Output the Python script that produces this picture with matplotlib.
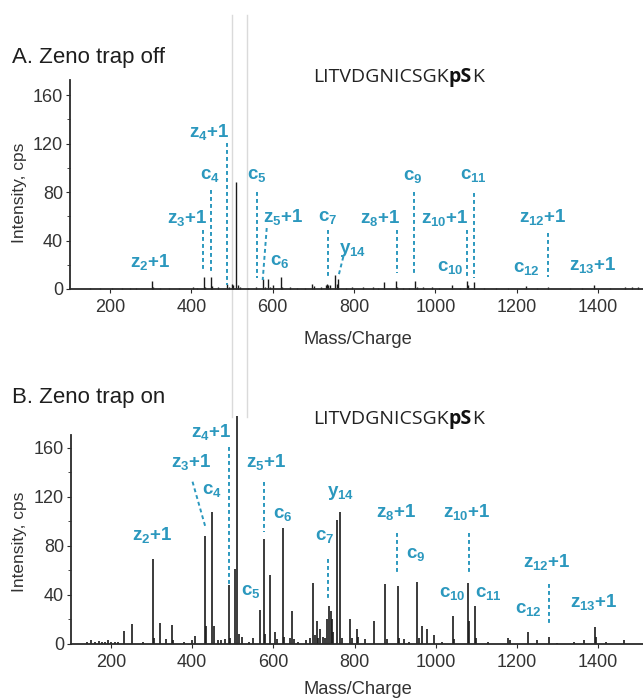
import matplotlib
matplotlib.use("Agg")
import matplotlib.pyplot as plt
from matplotlib.lines import Line2D
from matplotlib.ticker import MultipleLocator

plt.rcParams['font.family'] = ['Liberation Sans', 'DejaVu Sans']
plt.rcParams['mathtext.fontset'] = 'custom'
plt.rcParams['mathtext.rm'] = 'Liberation Sans:bold'
plt.rcParams['mathtext.it'] = 'Liberation Sans:bold'
plt.rcParams['mathtext.bf'] = 'Liberation Sans:bold'

# ---------------- data ----------------
top_mz = [150, 175, 204, 230, 249, 265, 302.6, 306, 323, 345, 370, 405, 415, 431, 434, 448, 451,
          465, 487, 492, 499, 503, 510, 514, 520, 540, 560, 575.5, 580, 589, 593, 600, 620.6, 624,
          642.7, 660, 680, 696, 701.7, 720, 730, 734.5, 737, 741, 753.5, 757, 761.6, 780, 794, 821,
          847.6, 860, 874, 902.5, 906, 920, 935, 950, 955, 970.7, 991, 1010, 1042, 1060, 1077, 1080,
          1096, 1120, 1150, 1179, 1223, 1250, 1278, 1330, 1360, 1390, 1430, 1466, 1483, 1499]
top_int = [0.8, 0.5, 1, 0.8, 1, 0.6, 7, 1.5, 1, 0.8, 0.7, 2, 1, 10, 2, 10, 2.5,
           1.5, 4, 2, 4, 3, 88, 3, 2, 1, 2, 8.5, 2, 8.5, 2, 3, 10, 2,
           2, 1, 1, 4, 2.5, 1.5, 3.5, 4, 3.5, 3, 11.5, 4, 8, 1, 1.5, 1.5,
           2, 1, 6, 6.5, 2, 1, 1, 6.5, 2, 2, 1.5, 1, 3, 1, 6.5, 3,
           5.5, 1, 0.7, 1, 2.5, 0.8, 1.5, 0.8, 1, 3, 1, 2, 2, 2]

bot_mz = [140, 152, 160, 170, 178, 185, 192, 200, 210, 218, 233, 251, 280, 302.6, 306, 320.6, 335,
          350, 353, 380, 400, 406.6, 431, 434, 450, 453, 463, 470, 480, 491, 494, 505, 511.6, 515,
          524, 540, 551, 566.5, 577, 580, 593, 603, 610, 624, 627, 640, 647, 650, 660, 680, 690,
          698.5, 702, 706.6, 711, 716, 722, 727, 733, 737, 741, 745, 748, 757.6, 764, 770, 790, 795,
          805, 808, 827, 849, 876, 880, 907, 910, 923, 935, 954, 958, 966, 979, 995, 1015, 1042,
          1045, 1080, 1083, 1097.5, 1100, 1130, 1178, 1182, 1227, 1250, 1280, 1300, 1340, 1365,
          1393, 1396, 1420, 1463]
bot_int = [2, 3, 2, 2.5, 2, 2, 3, 2, 1.5, 2, 11, 16, 1.5, 69, 5, 17.5, 4,
           15.5, 3, 2, 3, 6.5, 88, 15, 107.5, 15, 3, 3, 4, 48, 5, 61, 186, 8,
           6, 2, 5, 28, 85.5, 8, 56.5, 10, 4, 95, 6, 5, 27, 4, 2, 3, 5,
           49.5, 7, 19, 5, 12, 6, 5, 20, 31, 27, 20, 10, 101, 108, 5, 20, 5,
           12, 6, 4, 19, 49, 4, 47, 5, 4, 2, 51, 5, 15, 12, 7, 2, 23,
           4, 50, 19, 31, 5, 2, 5, 3, 10, 3, 6, 1, 2, 3,
           14, 6, 1.5, 3]

x_ticks = [200, 400, 600, 800, 1000, 1200, 1400]
y_ticks = [0, 40, 80, 120, 160]

peptide = ["LITVDGNICSGK", "pS", "K"]
peptide_bold = [False, True, False]

# fragment labels: (ion letter, index, suffix, label position (m/z, intensity), dashed guide)
top_labels = [
    ("z", "2", "+1", (298, 22), None),
    ("z", "3", "+1", (389, 58.5), (428, 48.7, 428, 14)),
    ("c", "4", "", (446, 94), (448.4, 81.6, 448.4, 14)),
    ("z", "4", "+1", (443.5, 129.5), (488, 120.4, 488, 3.3)),
    ("c", "5", "", (561.5, 94), (561, 80, 561, 9)),
    ("z", "5", "+1", (625.5, 59.4), (585.4, 50.3, 575.5, 7.4)),
    ("c", "6", "", (618, 22.3), None),
    ("c", "7", "", (736, 58.6), (735.4, 48.7, 735.4, 9)),
    ("y", "14", "", (797.5, 32.2), (773.7, 26.6, 761.4, 10.1)),
    ("z", "8", "+1", (864, 58.6), (905, 48.7, 905, 13)),
    ("c", "9", "", (945, 92.4), (948.3, 80, 948.3, 13)),
    ("z", "10", "+1", (1024, 58.6), (1077, 48.7, 1077, 10)),
    ("c", "10", "", (1036, 18.1), None),
    ("c", "11", "", (1092.6, 94), (1095, 79.2, 1095, 9)),
    ("z", "12", "+1", (1264.7, 59.4), (1276, 46.2, 1276, 10)),
    ("c", "12", "", (1225, 16.5), None),
    ("z", "13", "+1", (1387.7, 19.8), None),
]
bot_labels = [
    ("z", "2", "+1", (302.6, 89), None),
    ("z", "3", "+1", (396.8, 148.8), (401, 132.5, 433.7, 94.4)),
    ("c", "4", "", (450, 125.7), None),
    ("z", "4", "+1", (446, 173.3), (491, 161, 491, 48)),
    ("c", "5", "", (544.3, 42.7), None),
    ("z", "5", "+1", (581.2, 148.8), (577, 132.5, 577, 91.7)),
    ("c", "6", "", (622.2, 106), None),
    ("y", "14", "", (765.6, 123), None),
    ("c", "7", "", (726.3, 87.6), (734.4, 69, 734.4, 36.5)),
    ("z", "8", "+1", (902.6, 108), (905, 90.4, 905, 56.3)),
    ("c", "9", "", (950, 72.7), None),
    ("z", "10", "+1", (1077, 108), (1081, 90.4, 1081, 57.7)),
    ("c", "10", "", (1041, 41.4), None),
    ("c", "11", "", (1130, 41.4), None),
    ("c", "12", "", (1228.6, 27.8), None),
    ("z", "12", "+1", (1274, 67.2), (1279.5, 48.7, 1279.5, 16.9)),
    ("z", "13", "+1", (1390, 34.5), None),
]

# ---------------- figure ----------------
W, H = 643, 698
fig = plt.figure(figsize=(W / 100, H / 100), dpi=100)
BLUE = "#2b98be"
DARK = "#2a2a2a"


def fx(px):
    return px / W


def fy(py):
    return 1 - py / H


def setup(ax, ymax):
    ax.set_xlim(101.7, 1510.6)
    ax.set_ylim(0, ymax)
    for s in ("top", "right"):
        ax.spines[s].set_visible(False)
    for s in ("left", "bottom"):
        ax.spines[s].set_linewidth(1.3)
        ax.spines[s].set_color(DARK)
    ax.set_xticks(x_ticks)
    ax.set_yticks(y_ticks)
    ax.yaxis.set_minor_locator(MultipleLocator(20))
    ax.tick_params(axis="both", which="major", labelsize=13, colors=DARK, length=3, width=0.8,
                   labelcolor="#333333")
    ax.tick_params(axis="y", which="minor", length=2, width=0.6, colors=DARK)
    ax.tick_params(axis="x", pad=4)
    ax.tick_params(axis="y", pad=2)
    ax.set_facecolor("none")


def add_labels(ax, labels):
    for ion, idx, suf, (lx, ly), guide in labels:
        txt = ion + r"$_{" + idx + r"}$" + suf
        ax.text(lx, ly, txt, color=BLUE, fontsize=13.5, fontweight="bold", ha="center",
                va="center", clip_on=False)
        if guide is not None:
            x0, y0, x1, y1 = guide
            ax.plot([x0, x1], [y0, y1], color=BLUE, lw=1.4, ls=(0, (2.0, 1.6)), clip_on=False)


ax1 = fig.add_axes([fx(70), fy(289), fx(643 - 70), (289 - 80) / H])
setup(ax1, 172.4)
ax1.vlines(top_mz, 0, top_int, color="#1a1a1a", lw=1.0, clip_on=False)
add_labels(ax1, top_labels)

ax2 = fig.add_axes([fx(71), fy(644), fx(643 - 71), (644 - 435) / H])
setup(ax2, 170.6)
ax2.vlines(bot_mz, 0, bot_int, color="#1a1a1a", lw=1.2, clip_on=False)
add_labels(ax2, bot_labels)

for ycen in (193, 542):
    fig.text(fx(20), fy(ycen), "Intensity, cps", rotation=90, ha="center", va="center",
             fontsize=12.5, color="#333333")
for ycen in (340, 690):
    fig.text(fx(358), fy(ycen), "Mass/Charge", ha="center", va="center", fontsize=13.2,
             color="#333333")

fig.text(fx(12), fy(58), "A. Zeno trap off", ha="left", va="center", fontsize=16, color="#1e1e1e")
fig.text(fx(12), fy(398), "B. Zeno trap on", ha="left", va="center", fontsize=16, color="#1e1e1e")

renderer = fig.canvas.get_renderer()
for ybase in (82, 424):
    xpix = 313
    for part, bold in zip(peptide, peptide_bold):
        t = fig.text(fx(xpix), fy(ybase), part, ha="left", va="baseline", fontsize=14,
                     family="Open Sans", fontweight="bold" if bold else "normal",
                     color="#111111" if bold else "#222222")
        bb = t.get_window_extent(renderer)
        xpix = bb.x1 + (0.5 if bold else 0)

for px in (232, 247):
    fig.add_artist(Line2D([fx(px), fx(px)], [fy(15), fy(417)], transform=fig.transFigure,
                          color="#dadada", lw=1.0, zorder=-5))

fig.savefig("out.png", dpi=100)
